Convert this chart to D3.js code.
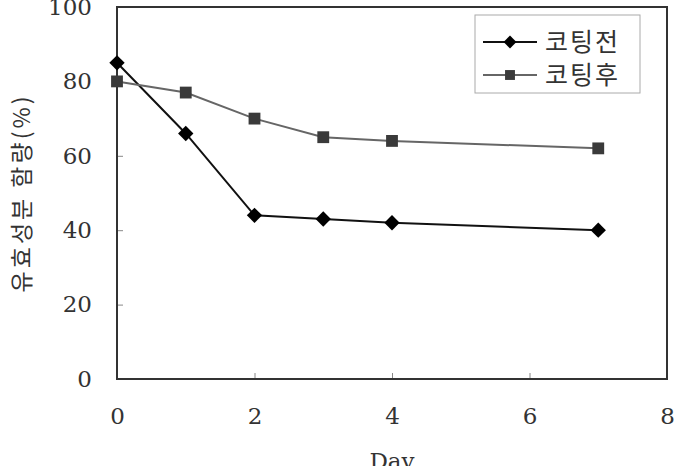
<!DOCTYPE html>
<html>
<head>
<meta charset="utf-8">
<script src="https://cdn.jsdelivr.net/npm/d3@7"></script>
<style>
  body { margin: 0; background: #fff; }
  svg { display: block; }
</style>
</head>
<body>
<svg id="chart"></svg>
<script>
// values
const days = [0, 1, 2, 3, 4, 7];
const beforeCoating = [85, 66, 44, 43, 42, 40];
const afterCoating = [80, 77, 70, 65, 64, 62];
const seriesNames = ['코팅전', '코팅후'];
const xTicks = [0, 2, 4, 6, 8];
const yTicks = [0, 20, 40, 60, 80, 100];

const width = 677, height = 466;
const margin = {top: 7, right: 10, bottom: 87, left: 117};
const plotW = width - margin.left - margin.right;
const plotH = height - margin.top - margin.bottom;

const svg = d3.select('#chart')
    .attr('width', width)
    .attr('height', height);

const x = d3.scaleLinear().domain([0, 8]).range([0, plotW]);
const y = d3.scaleLinear().domain([0, 100]).range([plotH, 0]);

const g = svg.append('g')
    .attr('transform', `translate(${margin.left},${margin.top})`);

const numFont = '"DejaVu Serif", serif';
const textColor = '#333';

// inward ticks
const xAxis = d3.axisBottom(x).tickValues(xTicks).tickSize(-6).tickPadding(29);
const yAxis = d3.axisLeft(y).tickValues(yTicks).tickSize(-6).tickPadding(25);

const xG = g.append('g')
    .attr('transform', `translate(0,${plotH})`)
    .call(xAxis);
const yG = g.append('g').call(yAxis);

[xG, yG].forEach(a => {
  a.select('.domain').remove();
  a.selectAll('.tick line').attr('stroke', '#888').attr('stroke-width', 1);
  a.selectAll('.tick text')
      .attr('fill', textColor)
      .style('font-family', numFont)
      .style('font-size', '23px');
});
xG.selectAll('.tick text').attr('dy', '0.71em');

// frame
g.append('rect')
    .attr('width', plotW)
    .attr('height', plotH)
    .attr('fill', 'none')
    .attr('stroke', '#333')
    .attr('stroke-width', 2);

// axis titles
svg.append('text')
    .attr('x', margin.left + x(4))
    .attr('y', height + 3)
    .attr('text-anchor', 'middle')
    .attr('fill', textColor)
    .style('font-family', numFont)
    .style('font-size', '23px')
    .text('Day');

svg.append('text')
    .attr('transform', `translate(30,${margin.top + y(50)}) rotate(-90)`)
    .attr('text-anchor', 'middle')
    .attr('fill', textColor)
    .style('font-family', '"Noto Sans CJK KR", sans-serif')
    .style('font-size', '23px')
    .style('letter-spacing', '3px')
    .text('유효성분 함량(%)');

const series = [
  {name: seriesNames[0], values: beforeCoating, line: '#111', marker: d3.symbolDiamond2, fill: '#000', size: 150},
  {name: seriesNames[1], values: afterCoating, line: '#666', marker: d3.symbolSquare, fill: '#3a3a3a', size: 140}
];

const line = d3.line()
    .x((d, i) => x(days[i]))
    .y(d => y(d));

series.forEach(s => {
  g.append('path')
      .datum(s.values)
      .attr('fill', 'none')
      .attr('stroke', s.line)
      .attr('stroke-width', 2)
      .attr('d', line);

  g.selectAll(null)
      .data(s.values)
      .join('path')
      .attr('transform', (d, i) => `translate(${x(days[i])},${y(d)})`)
      .attr('d', d3.symbol().type(s.marker).size(s.size))
      .attr('fill', s.fill);
});

// legend
const legend = svg.append('g').attr('transform', 'translate(475,15)');
legend.append('rect')
    .attr('width', 165)
    .attr('height', 78)
    .attr('fill', '#fff')
    .attr('stroke', '#aaa')
    .attr('stroke-width', 1);

series.forEach((s, i) => {
  const row = legend.append('g').attr('transform', `translate(0,${27 + i * 33})`);
  row.append('line')
      .attr('x1', 8).attr('x2', 62)
      .attr('stroke', s.line)
      .attr('stroke-width', 2);
  row.append('path')
      .attr('transform', 'translate(35,0)')
      .attr('d', d3.symbol().type(s.marker).size(s.size * 0.7))
      .attr('fill', s.fill);
  row.append('text')
      .attr('x', 70)
      .attr('dy', '0.35em')
      .attr('fill', textColor)
      .style('font-family', '"Noto Sans CJK KR", sans-serif')
      .style('font-size', '25px')
      .style('letter-spacing', '2px')
      .text(s.name);
});
</script>
</body>
</html>
